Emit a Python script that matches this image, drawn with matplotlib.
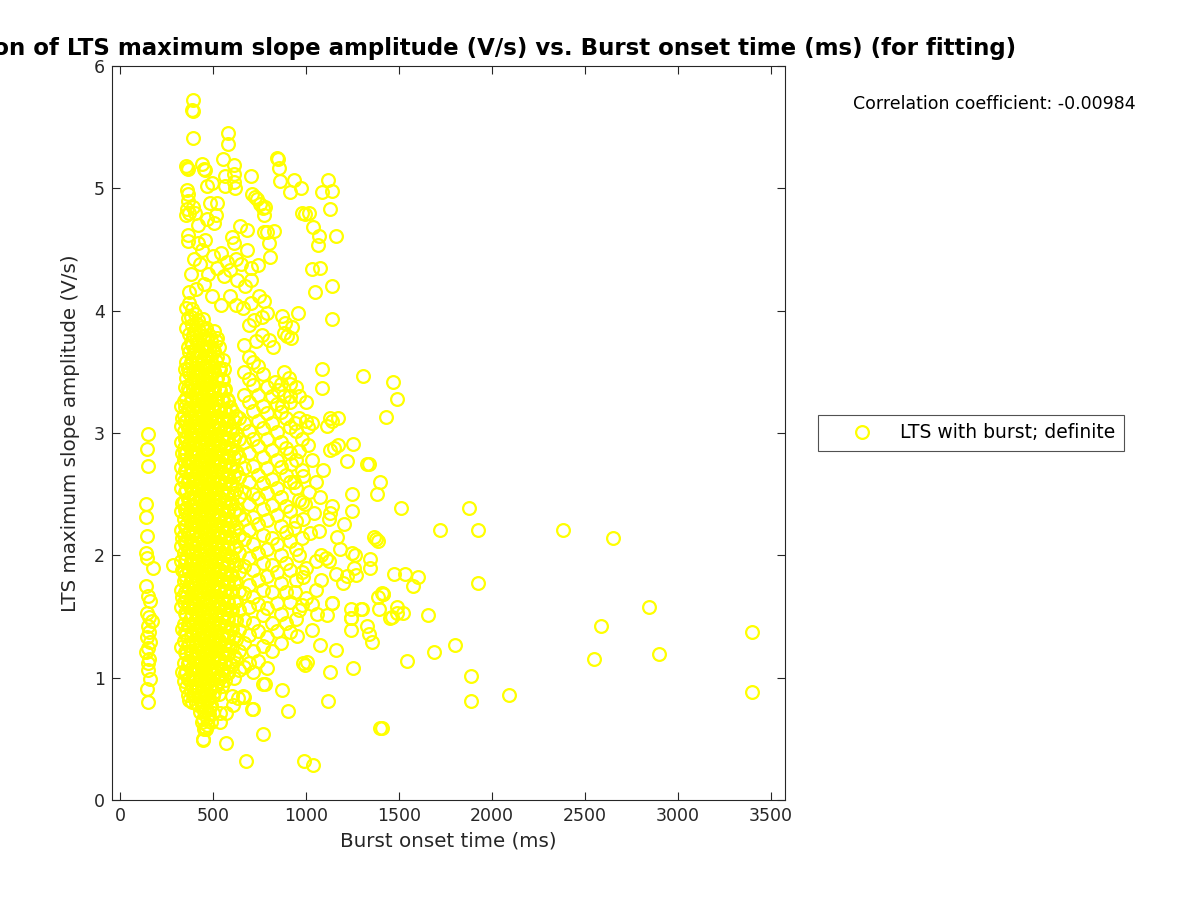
import matplotlib
matplotlib.use("Agg")
import matplotlib.pyplot as plt

# Burst onset time (ms) vs LTS maximum slope amplitude (V/s)

# narrow column of early bursts (~140 ms)
left_col_ms = [148, 145, 146, 140, 138, 143, 139, 141, 176, 136, 150, 160, 144, 152,
               170, 147, 153, 142, 158, 149, 137, 155, 146, 151, 157, 143, 150]
left_col_vs = [2.99, 2.87, 2.73, 2.42, 2.31, 2.16, 2.02, 1.98, 1.90, 1.75, 1.67, 1.63, 1.53, 1.50,
               1.46, 1.42, 1.37, 1.33, 1.29, 1.24, 1.21, 1.15, 1.12, 1.06, 0.99, 0.91, 0.80]

# dense core, one list of amplitudes per onset column
core_cols_ms = [325, 340, 355, 370, 385, 400, 415, 430, 445, 460, 475, 490, 505, 520,
                535, 550, 565, 580, 600, 620, 640]
core_cols_vs = [
    [1.25, 1.58, 1.72, 1.95, 2.08, 2.21, 2.36, 2.55, 2.72, 2.93, 3.06, 3.22],
    [0.97, 1.12, 1.30, 1.44, 1.62, 1.79, 1.88, 2.02, 2.17, 2.30, 2.44, 2.61, 2.78, 2.88, 3.02, 3.15, 3.26],
    [0.92, 1.05, 1.19, 1.35, 1.51, 1.66, 1.81, 1.97, 2.12, 2.25, 2.39, 2.53, 2.68, 2.84, 2.97, 3.11,
     3.29, 3.45, 3.58, 3.86, 4.02],
    [0.82, 1.00, 1.14, 1.27, 1.42, 1.58, 1.73, 1.87, 2.04, 2.19, 2.33, 2.47, 2.62, 2.76, 2.91, 3.06,
     3.19, 3.34, 3.49, 3.66, 3.81, 4.06, 4.15],
    [0.80, 0.93, 1.08, 1.22, 1.37, 1.52, 1.69, 1.83, 1.96, 2.10, 2.27, 2.41, 2.56, 2.70, 2.85, 3.00,
     3.13, 3.28, 3.42, 3.57, 3.72, 3.88, 4.01],
    [0.86, 0.99, 1.16, 1.31, 1.46, 1.61, 1.77, 1.91, 2.06, 2.21, 2.36, 2.50, 2.65, 2.80, 2.94, 3.08,
     3.23, 3.38, 3.53, 3.68, 3.84, 3.97],
    [0.78, 0.92, 1.05, 1.20, 1.35, 1.50, 1.64, 1.79, 1.94, 2.09, 2.24, 2.39, 2.53, 2.68, 2.83, 2.98,
     3.12, 3.27, 3.42, 3.57, 3.74, 3.92],
    [0.72, 0.85, 1.00, 1.14, 1.28, 1.43, 1.57, 1.72, 1.87, 2.01, 2.16, 2.31, 2.46, 2.60, 2.75, 2.90,
     3.05, 3.20, 3.34, 3.50, 3.64, 3.80],
    [0.50, 0.66, 0.80, 0.94, 1.09, 1.23, 1.38, 1.53, 1.68, 1.82, 1.97, 2.12, 2.27, 2.42, 2.56, 2.71,
     2.86, 3.01, 3.16, 3.31, 3.46, 3.61, 3.77, 3.93],
    [0.58, 0.75, 0.89, 1.03, 1.18, 1.33, 1.47, 1.62, 1.76, 1.91, 2.05, 2.20, 2.35, 2.49, 2.64, 2.79,
     2.94, 3.08, 3.24, 3.39, 3.54, 3.70, 3.86],
    [0.70, 0.83, 0.97, 1.12, 1.26, 1.41, 1.56, 1.70, 1.85, 2.00, 2.14, 2.29, 2.44, 2.58, 2.73, 2.88,
     3.02, 3.17, 3.32, 3.47, 3.63, 3.80],
    [0.64, 0.78, 0.92, 1.07, 1.22, 1.36, 1.51, 1.65, 1.80, 1.95, 2.09, 2.24, 2.39, 2.53, 2.68, 2.82,
     2.97, 3.12, 3.27, 3.42, 3.58, 3.75],
    [0.88, 1.02, 1.16, 1.30, 1.45, 1.60, 1.74, 1.89, 2.03, 2.18, 2.33, 2.47, 2.62, 2.77, 2.91, 3.06,
     3.21, 3.36, 3.51, 3.67, 3.83],
    [0.94, 1.08, 1.24, 1.38, 1.53, 1.67, 1.82, 1.97, 2.11, 2.26, 2.41, 2.55, 2.70, 2.85, 2.99, 3.14,
     3.29, 3.45, 3.62, 3.78],
    [0.71, 1.00, 1.14, 1.29, 1.43, 1.58, 1.72, 1.87, 2.02, 2.16, 2.31, 2.46, 2.60, 2.75, 2.90, 3.04,
     3.19, 3.35, 3.52],
    [1.06, 1.20, 1.35, 1.50, 1.64, 1.79, 1.94, 2.08, 2.23, 2.37, 2.52, 2.67, 2.81, 2.96, 3.11, 3.27,
     3.43, 3.60],
    [0.98, 1.12, 1.27, 1.42, 1.56, 1.71, 1.85, 2.00, 2.15, 2.29, 2.44, 2.59, 2.73, 2.88, 3.03, 3.18, 3.36],
    [1.04, 1.19, 1.33, 1.48, 1.62, 1.77, 1.92, 2.06, 2.21, 2.36, 2.50, 2.65, 2.80, 2.95, 3.10, 3.26],
    [0.85, 1.10, 1.25, 1.40, 1.55, 1.70, 1.84, 1.99, 2.14, 2.28, 2.43, 2.58, 2.72, 2.87, 3.02, 3.18],
    [1.15, 1.32, 1.47, 1.63, 1.78, 1.93, 2.08, 2.23, 2.38, 2.54, 2.69, 2.84, 2.99, 3.14],
    [1.06, 1.22, 1.39, 1.55, 1.71, 1.86, 2.02, 2.17, 2.33, 2.48, 2.64, 2.80, 2.95, 3.12],
]

# more core points sitting between the columns above
fill_cols_ms = [333, 348, 362, 378, 392, 408, 422, 438, 452, 468, 482, 498, 512, 528,
                545, 558, 572, 590, 610]
fill_cols_vs = [
    [1.05, 1.40, 1.66, 1.88, 2.14, 2.43, 2.64, 2.84, 3.12],
    [1.04, 1.21, 1.37, 1.53, 1.70, 1.84, 1.95, 2.10, 2.24, 2.37, 2.52, 2.70, 2.83, 2.95, 3.09, 3.21, 3.38, 3.52],
    [0.86, 0.99, 1.12, 1.27, 1.43, 1.59, 1.74, 1.89, 2.05, 2.18, 2.32, 2.46, 2.61, 2.76, 2.90, 3.04,
     3.20, 3.37, 3.52, 3.70, 3.94],
    [0.90, 1.07, 1.20, 1.35, 1.50, 1.65, 1.80, 1.95, 2.12, 2.26, 2.40, 2.55, 2.69, 2.83, 2.98, 3.12,
     3.27, 3.41, 3.58, 3.74, 3.95],
    [0.86, 1.00, 1.15, 1.29, 1.44, 1.60, 1.76, 1.89, 2.03, 2.18, 2.34, 2.48, 2.63, 2.77, 2.92, 3.06,
     3.20, 3.35, 3.50, 3.64, 3.80],
    [0.79, 0.92, 1.07, 1.23, 1.38, 1.53, 1.69, 1.84, 1.98, 2.13, 2.28, 2.43, 2.57, 2.72, 2.87, 3.01,
     3.16, 3.31, 3.46, 3.61, 3.76, 3.90],
    [0.85, 0.98, 1.12, 1.27, 1.42, 1.57, 1.71, 1.86, 2.01, 2.16, 2.31, 2.46, 2.60, 2.75, 2.90, 3.05,
     3.19, 3.34, 3.49, 3.66, 3.83],
    [0.64, 0.78, 0.93, 1.07, 1.21, 1.36, 1.50, 1.64, 1.79, 1.94, 2.08, 2.23, 2.38, 2.53, 2.67, 2.82,
     2.97, 3.12, 3.27, 3.42, 3.57, 3.72, 3.87],
    [0.58, 0.73, 0.87, 1.01, 1.16, 1.31, 1.45, 1.60, 1.75, 1.90, 2.04, 2.19, 2.34, 2.49, 2.63, 2.78,
     2.93, 3.08, 3.23, 3.38, 3.53, 3.69, 3.85],
    [0.67, 0.82, 0.96, 1.10, 1.25, 1.40, 1.54, 1.69, 1.83, 1.98, 2.13, 2.27, 2.42, 2.56, 2.71, 2.86,
     3.01, 3.16, 3.31, 3.46, 3.62, 3.78],
    [0.76, 0.90, 1.04, 1.19, 1.33, 1.48, 1.63, 1.77, 1.92, 2.07, 2.21, 2.36, 2.51, 2.65, 2.80, 2.95,
     3.10, 3.25, 3.40, 3.55, 3.71],
    [0.71, 0.85, 0.99, 1.14, 1.29, 1.43, 1.58, 1.72, 1.87, 2.02, 2.16, 2.31, 2.46, 2.60, 2.75, 2.90,
     3.04, 3.19, 3.34, 3.50, 3.66],
    [0.95, 1.09, 1.23, 1.37, 1.52, 1.67, 1.81, 1.96, 2.10, 2.25, 2.40, 2.54, 2.69, 2.84, 2.98, 3.13,
     3.28, 3.44, 3.59, 3.75],
    [0.87, 1.01, 1.16, 1.31, 1.45, 1.60, 1.74, 1.89, 2.04, 2.18, 2.33, 2.48, 2.62, 2.77, 2.92, 3.07,
     3.22, 3.37, 3.53, 3.70],
    [0.93, 1.07, 1.21, 1.36, 1.50, 1.65, 1.80, 1.94, 2.09, 2.24, 2.38, 2.53, 2.68, 2.82, 2.97, 3.12,
     3.27, 3.44],
    [1.13, 1.27, 1.42, 1.57, 1.71, 1.86, 2.01, 2.15, 2.30, 2.45, 2.59, 2.74, 2.89, 3.04, 3.19, 3.35, 3.52],
    [1.05, 1.19, 1.34, 1.49, 1.63, 1.78, 1.93, 2.07, 2.22, 2.36, 2.51, 2.66, 2.81, 2.96, 3.11, 3.28],
    [1.11, 1.26, 1.41, 1.55, 1.70, 1.85, 1.99, 2.14, 2.29, 2.43, 2.58, 2.73, 2.88, 3.03, 3.21],
    [1.00, 1.18, 1.33, 1.48, 1.62, 1.77, 1.92, 2.06, 2.21, 2.36, 2.51, 2.65, 2.80, 2.95, 3.10],
]

# looser band 650-1000 ms
mid_cols_ms = [665, 690, 715, 740, 765, 790, 815, 840, 865, 890, 915, 945, 975]
mid_cols_vs = [
    [0.84, 1.09, 1.28, 1.47, 1.69, 1.91, 2.13, 2.30, 2.52, 2.71, 2.93, 3.08, 3.31, 3.50, 3.72],
    [1.12, 1.35, 1.58, 1.76, 1.98, 2.21, 2.42, 2.60, 2.84, 3.02, 3.25, 3.44, 3.62],
    [0.74, 1.05, 1.22, 1.45, 1.66, 1.88, 2.09, 2.31, 2.50, 2.73, 2.95, 3.18, 3.39, 3.58],
    [1.14, 1.38, 1.60, 1.80, 2.02, 2.26, 2.47, 2.66, 2.89, 3.10, 3.31, 3.55],
    [0.95, 1.26, 1.51, 1.72, 1.94, 2.17, 2.38, 2.59, 2.80, 3.04, 3.22, 3.48],
    [1.08, 1.33, 1.57, 1.83, 2.05, 2.29, 2.51, 2.71, 2.95, 3.16, 3.38],
    [1.22, 1.45, 1.70, 1.92, 2.14, 2.41, 2.62, 2.86, 3.08, 3.30],
    [1.38, 1.61, 1.86, 2.09, 2.33, 2.55, 2.78, 3.01, 3.24],
    [1.28, 1.52, 1.77, 2.00, 2.24, 2.48, 2.72, 2.93, 3.17, 3.40],
    [1.45, 1.70, 1.94, 2.19, 2.40, 2.66, 2.88, 3.12],
    [1.37, 1.62, 1.88, 2.12, 2.36, 2.60, 2.84, 3.05, 3.30],
    [1.48, 1.80, 2.05, 2.28, 2.55, 2.78, 3.02],
    [1.59, 1.86, 2.14, 2.44, 2.70, 2.95],
]

# upper part of the cloud (above ~3.7 V/s)
upper_pts = [
    (393, 5.72), (385, 5.64), (389, 5.63), (389, 5.41), (581, 5.45), (581, 5.36), (554, 5.24),
    (611, 5.19), (611, 5.12), (611, 5.05), (701, 5.10), (843, 5.25), (850, 5.24), (855, 5.17),
    (859, 5.06), (936, 5.07), (912, 4.97), (970, 5.00), (1118, 5.07), (1083, 4.97), (1140, 4.98),
    (1127, 4.83), (1160, 4.61), (975, 4.80), (995, 4.79), (1015, 4.80), (1038, 4.68), (1070, 4.61),
    (1065, 4.54), (1029, 4.34), (1074, 4.35), (1047, 4.15), (1140, 4.20), (1140, 3.93), (957, 3.98),
    (357, 5.17), (362, 5.16), (352, 5.18), (440, 5.20), (448, 5.16), (455, 5.15), (357, 4.99),
    (362, 4.95), (366, 4.90), (360, 4.83), (355, 4.78), (465, 5.02), (491, 5.04), (563, 5.10),
    (565, 5.02), (617, 5.00), (706, 4.95), (722, 4.93), (735, 4.91), (750, 4.87), (765, 4.84),
    (780, 4.85), (770, 4.78), (520, 4.88), (480, 4.88), (515, 4.78), (505, 4.72), (465, 4.75),
    (420, 4.70), (392, 4.85), (400, 4.80), (370, 4.80), (645, 4.69), (680, 4.66), (770, 4.64),
    (790, 4.64), (825, 4.65), (800, 4.55), (600, 4.60), (612, 4.55), (680, 4.50), (362, 4.62),
    (365, 4.57), (420, 4.55), (455, 4.58), (440, 4.50), (500, 4.45), (540, 4.47), (575, 4.40),
    (590, 4.33), (620, 4.42), (650, 4.38), (705, 4.35), (740, 4.37), (805, 4.44), (700, 4.25),
    (745, 4.12), (770, 4.08), (790, 3.98), (760, 3.95), (668, 4.20), (630, 4.25), (560, 4.28),
    (520, 4.35), (470, 4.30), (430, 4.38), (395, 4.42), (380, 4.30), (405, 4.18), (450, 4.22),
    (495, 4.12), (540, 4.05), (590, 4.12), (620, 4.05), (660, 4.02), (700, 4.06), (720, 3.92),
    (690, 3.88), (868, 3.96), (885, 3.90), (880, 3.82), (895, 3.79), (920, 3.78), (925, 3.87),
    (800, 3.76), (823, 3.70), (760, 3.80), (730, 3.75),
]

# scattered points 900-1500 ms and the low outliers
scatter_pts = [
    (1083, 3.52), (1306, 3.47), (1083, 3.37), (880, 3.50), (905, 3.45), (915, 3.40), (945, 3.38),
    (960, 3.30), (915, 3.25), (870, 3.22), (850, 3.35), (830, 3.42), (880, 3.30), (1000, 3.25),
    (1030, 3.08), (1000, 3.10), (1130, 3.12), (1140, 3.10), (1170, 3.12), (1110, 3.06), (1010, 3.05),
    (960, 3.12), (940, 3.08), (1011, 2.90), (1127, 2.86), (1150, 2.88), (1172, 2.90), (1217, 2.77),
    (1253, 2.91), (1325, 2.75), (1339, 2.75), (1396, 2.60), (1378, 2.50), (1247, 2.50), (1247, 2.36),
    (1204, 2.26), (1167, 2.15), (1120, 2.30), (1130, 2.35), (1140, 2.40), (1074, 2.48), (1016, 2.52),
    (1050, 2.60), (1090, 2.70), (1030, 2.78), (980, 2.65), (995, 2.42), (1040, 2.35), (1070, 2.20),
    (1020, 2.18), (985, 2.30), (1365, 2.15), (1375, 2.13), (1385, 2.12), (1344, 1.97), (1344, 1.90),
    (1217, 1.83), (1255, 1.90), (1265, 1.84), (1260, 2.00), (1245, 2.02), (1081, 2.00), (1105, 1.98),
    (1124, 1.95), (1050, 1.95), (1000, 1.90), (1195, 1.77), (1136, 1.61), (1405, 1.69), (1414, 1.68),
    (1393, 1.56), (1462, 1.50), (1489, 1.53), (1240, 1.56), (1240, 1.49), (1240, 1.39), (1298, 1.56),
    (1325, 1.42), (1340, 1.36), (1352, 1.29), (1249, 1.08), (1127, 1.05), (1115, 0.81), (1396, 0.59),
    (983, 1.12), (993, 1.10), (1002, 1.13), (868, 0.90), (903, 0.73), (769, 0.54), (674, 0.32),
    (568, 0.47), (446, 0.49), (988, 0.32), (1038, 0.29), (778, 0.95), (706, 0.74), (661, 0.85),
    (635, 0.83), (608, 0.78), (570, 0.71), (536, 0.64), (465, 0.61), (456, 0.59), (1074, 1.27),
    (1160, 1.23), (1029, 1.39), (948, 1.34), (1056, 1.52), (1110, 1.51), (1140, 1.61), (1294, 1.56),
    (1387, 1.66), (1239, 1.49), (1464, 3.42), (1486, 3.28), (1428, 3.13), (282, 1.92),
    (1050, 1.72), (1080, 1.80), (1160, 1.85), (1180, 2.05), (1030, 1.60), (960, 1.55), (1000, 1.65),
    (940, 1.70), (980, 1.82), (960, 2.00), (935, 2.22), (960, 2.45), (935, 2.60), (920, 2.75),
    (960, 2.85),
]

# long tail of late bursts
tail_ms = [1507, 1876, 1719, 1921, 2382, 2651, 1473, 1531, 1599, 1574, 1921, 1414, 1486, 1522,
           1450, 1654, 2841, 2583, 3400, 1799, 1687, 1541, 2550, 2896, 1887, 1887, 2090, 3400, 1405]
tail_vs = [2.39, 2.39, 2.21, 2.21, 2.21, 2.14, 1.85, 1.85, 1.82, 1.75, 1.77, 1.68, 1.58, 1.53,
           1.49, 1.51, 1.58, 1.42, 1.37, 1.27, 1.21, 1.14, 1.15, 1.19, 1.01, 0.81, 0.86, 0.88, 0.59]

corr_text = "Correlation coefficient: -0.00984"
title_text = "Correlation of LTS maximum slope amplitude (V/s) vs. Burst onset time (ms) (for fitting)"

# gather everything into one series
onset_ms = list(left_col_ms)
slope_vs = list(left_col_vs)
all_cols_ms = core_cols_ms + fill_cols_ms + mid_cols_ms
all_cols_vs = core_cols_vs + fill_cols_vs + mid_cols_vs
for x, ys in zip(all_cols_ms, all_cols_vs):
    onset_ms += [x] * len(ys)
    slope_vs += ys
for x, y in upper_pts + scatter_pts:
    onset_ms.append(x)
    slope_vs.append(y)
onset_ms += tail_ms
slope_vs += tail_vs

fig = plt.figure(figsize=(12, 9), dpi=100)
ax = fig.add_axes([112 / 1200, 100 / 900, 673 / 1200, 734 / 900])

ax.plot(onset_ms, slope_vs, linestyle="none", marker="o", markersize=9.2,
        markerfacecolor="none", markeredgecolor="#FFFF00", markeredgewidth=1.6,
        label="LTS with burst; definite")

ax.set_xlim(-45, 3575)
ax.set_ylim(0, 6)
ax.set_xticks(range(0, 3501, 500))
ax.set_yticks(range(0, 7))

grey = "#262626"
ax.tick_params(direction="in", length=6, width=0.8, top=True, right=True,
               labelsize=12.5, colors=grey, pad=5)
for s in ax.spines.values():
    s.set_color(grey)
    s.set_linewidth(0.8)

ax.set_xlabel("Burst onset time (ms)", fontsize=14.3, color=grey, labelpad=5)
ax.set_ylabel("LTS maximum slope amplitude (V/s)", fontsize=14.3, color=grey, labelpad=10)
ax.set_title(title_text, fontsize=16.5, fontweight="bold", pad=8)

fig.text(853 / 1200, 1 - 104 / 900, corr_text, fontsize=12.5, va="center", ha="left")

leg = ax.legend(loc="center left", bbox_to_anchor=(818 / 1200, 1 - 433 / 900),
                bbox_transform=fig.transFigure, fontsize=13.5, frameon=True,
                fancybox=False, borderaxespad=0, handlelength=3.8, handletextpad=0.15,
                borderpad=0.45)
leg.get_frame().set_edgecolor(grey)
leg.get_frame().set_linewidth(0.8)

fig.savefig("out.png", dpi=100)
